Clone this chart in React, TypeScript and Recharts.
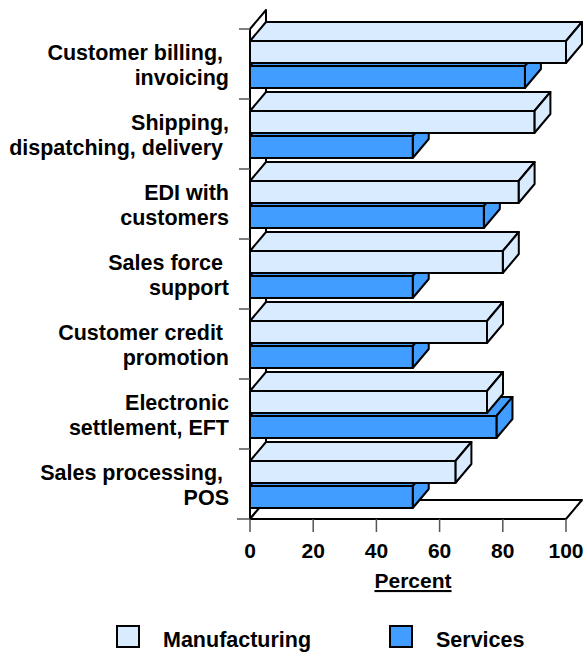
import React from "react";
import { BarChart, Bar, XAxis, YAxis, ReferenceArea, Legend, Label } from "recharts";

const categories = [
  "Customer billing, invoicing",
  "Shipping, dispatching, delivery",
  "EDI with customers",
  "Sales force support",
  "Customer credit promotion",
  "Electronic settlement, EFT",
  "Sales processing, POS",
];
const labelLines = [
  ["Customer billing,\u00a0", "invoicing"],
  ["Shipping,", "dispatching, delivery\u00a0"],
  ["EDI with", "customers"],
  ["Sales force\u00a0", "support"],
  ["Customer credit\u00a0", "promotion"],
  ["Electronic", "settlement, EFT"],
  ["Sales processing,\u00a0", "POS"],
];
const manufacturing = [100, 90, 85, 80, 75, 75, 65];
const services = [87, 51.5, 74, 51.5, 51.5, 78, 51.5];
const xTicks = [0, 20, 40, 60, 80, 100];
const seriesNames = ["Manufacturing", "Services"];

const LIGHT = "#D9ECFF";
const BLUE = "#419DFF";
const FONT = "'Liberation Sans', Arial, Helvetica, sans-serif";
const DX = 16;
const DY = -19;

const data = categories.map((c, i) => ({
  cat: c,
  manufacturing: manufacturing[i],
  services: services[i],
}));

function Box3D(props: any) {
  const { x, y, width, height, fill } = props;
  if (!(width > 0) || !(height > 0)) return <g />;
  const x2 = x + width;
  const y2 = y + height;
  const top = `${x},${y} ${x2},${y} ${x2 + DX},${y + DY} ${x + DX},${y + DY}`;
  const side = `${x2},${y} ${x2 + DX},${y + DY} ${x2 + DX},${y2 + DY} ${x2},${y2}`;
  return (
    <g stroke="#000" strokeWidth={2} strokeLinejoin="round" fill={fill}>
      <polygon points={top} />
      <polygon points={side} />
      <rect x={x} y={y} width={width} height={height} />
    </g>
  );
}

function Empty() {
  return <g />;
}

function Frame(props: any) {
  const { x, y, width, height } = props;
  const yb = y + height;
  const floor = `${x},${yb} ${x + width},${yb} ${x + width + DX},${yb + DY} ${x + DX},${yb + DY}`;
  const wall = `${x},${y} ${x + DX},${y + DY} ${x + DX},${yb + DY} ${x},${yb}`;
  return (
    <g stroke="#000" strokeWidth={2} fill="#fff" strokeLinejoin="round">
      <polygon points={wall} />
      <polygon points={floor} />
    </g>
  );
}

function CatTick(props: any) {
  const { x, y, payload, index, visibleTicksCount, height } = props;
  const i = categories.indexOf(payload.value);
  const lines = labelLines[i] || [String(payload.value)];
  let half = 35;
  if (typeof height === "number" && typeof visibleTicksCount === "number" && visibleTicksCount > 0) {
    half = height / visibleTicksCount / 2;
  } else if (typeof payload.offset === "number" && payload.offset > 0) {
    half = payload.offset;
  }
  const last = index === visibleTicksCount - 1;
  return (
    <g>
      <line x1={x + 10} x2={x + 21} y1={y - half} y2={y - half} stroke="#555" strokeWidth={1.5} />
      {last && <line x1={x + 8} x2={x + 21} y1={y + half} y2={y + half} stroke="#555" strokeWidth={1.5} />}
      <text
        x={x}
        y={y}
        textAnchor="end"
        fontFamily={FONT}
        fontWeight="bold"
        fontSize={21.5}
        fill="#000"
      >
        <tspan x={x} y={y - 4}>{lines[0]}</tspan>
        {lines[1] && <tspan x={x} y={y + 21}>{lines[1]}</tspan>}
      </text>
    </g>
  );
}

function PercentLabel(props: any) {
  const vb = props.viewBox || {};
  const cx = vb.x + vb.width / 2 + 5;
  const by = vb.y + 69;
  return (
    <text
      x={cx}
      y={by}
      textAnchor="middle"
      fontFamily={FONT}
      fontWeight="bold"
      fontSize={21}
      fill="#000"
      textDecoration="underline"
    >
      Percent
    </text>
  );
}

function LegendContent() {
  const colors = [LIGHT, BLUE];
  const boxX = [117, 390];
  return (
    <svg width={584} height={32} style={{ display: "block" }}>
      {seriesNames.map((n, i) => (
        <g key={n}>
          <rect x={boxX[i]} y={6} width={22} height={21} fill={colors[i]} stroke="#000" strokeWidth={2} />
          <text x={boxX[i] + 46} y={27} fontFamily={FONT} fontWeight="bold" fontSize={21.5} fill="#000">
            {n}
          </text>
        </g>
      ))}
    </svg>
  );
}

export default function App() {
  return (
    <div style={{ position: "absolute", left: 0, top: 0, width: 584, height: 652, background: "#fff" }}>
      <BarChart
        width={584}
        height={652}
        data={data}
        layout="vertical"
        margin={{ top: 29, right: 18, bottom: 73, left: 0 }}
        barGap={3}
      >
        <XAxis
          type="number"
          domain={[0, 100]}
          ticks={xTicks}
          interval={0}
          height={60}
          tickSize={13}
          tickMargin={11}
          axisLine={{ stroke: "#000", strokeWidth: 2 }}
          tickLine={{ stroke: "#555", strokeWidth: 1.5 }}
          tick={{ fill: "#000", fontSize: 21, fontWeight: "bold", fontFamily: FONT }}
        >
          <Label content={PercentLabel} />
        </XAxis>
        <YAxis
          yAxisId="m"
          type="category"
          dataKey="cat"
          width={250}
          interval={0}
          axisLine={false}
          tickLine={false}
          tickSize={10}
          tickMargin={11}
          tick={CatTick}
        />
        <YAxis yAxisId="s" type="category" dataKey="cat" hide />
        <ReferenceArea yAxisId="m" x1={0} x2={100} shape={Frame} ifOverflow="visible" />
        <Bar yAxisId="s" dataKey="dummyA" barSize={22} shape={Empty} isAnimationActive={false} legendType="none" />
        <Bar yAxisId="s" dataKey="services" name="Services" barSize={22} fill={BLUE} shape={Box3D} isAnimationActive={false} />
        <Bar yAxisId="m" dataKey="manufacturing" name="Manufacturing" barSize={22} fill={LIGHT} shape={Box3D} isAnimationActive={false} />
        <Bar yAxisId="m" dataKey="dummyB" barSize={22} shape={Empty} isAnimationActive={false} legendType="none" />
        <Legend
          layout="horizontal"
          verticalAlign="middle"
          align="center"
          content={LegendContent}
          wrapperStyle={{ position: "absolute", left: 0, top: 620, width: 584, height: 32 }}
        />
      </BarChart>
    </div>
  );
}
